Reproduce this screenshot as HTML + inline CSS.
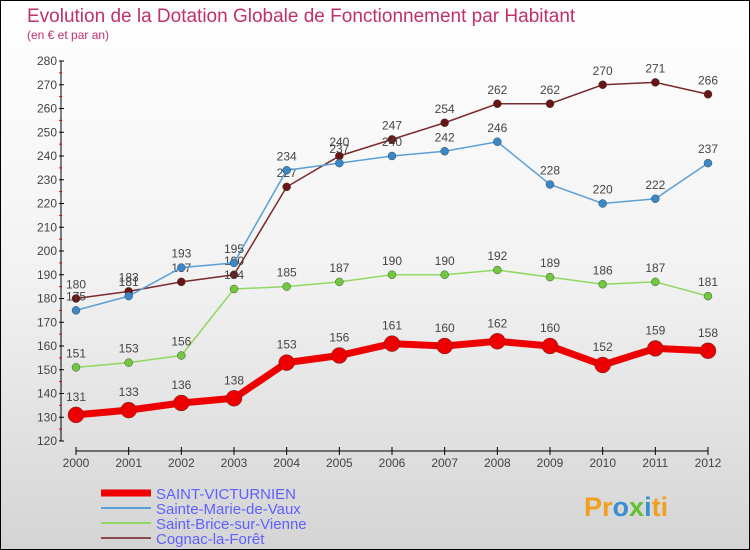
<!DOCTYPE html>
<html><head><meta charset="utf-8"><style>
body{margin:0}
#c{width:748px;height:548px;border:1px solid #000;background:linear-gradient(#fff,#f2f2f2 50%,#d4d4d4);position:relative;font-family:"Liberation Sans",sans-serif;overflow:hidden}
</style></head><body>
<div id="c">
<svg id="s" width="748" height="548" style="position:absolute;left:0;top:0">
<text x="26" y="21" font-size="19" fill="#c0306a">Evolution de la Dotation Globale de Fonctionnement par Habitant</text>
<text x="26" y="38" font-size="12" fill="#c0306a">(en € et par an)</text>
<text x="583" y="515" font-size="27" font-weight="bold" fill="#f0a020">Pr<tspan fill="#3a8fd0">o</tspan><tspan fill="#60c030">x</tspan><tspan fill="#3a8fd0">i</tspan>ti</text>
</svg>
</div>
<script>
const years=[2000,2001,2002,2003,2004,2005,2006,2007,2008,2009,2010,2011,2012];
const saintVicturnien=[131,133,136,138,153,156,161,160,162,160,152,159,158];
const sainteMarie=[175,181,193,195,234,237,240,242,246,228,220,222,237];
const saintBrice=[151,153,156,184,185,187,190,190,192,189,186,187,181];
const cognac=[180,183,187,190,227,240,247,254,262,262,270,271,266];
const yTicks=[120,130,140,150,160,170,180,190,200,210,220,230,240,250,260,270,280];
const names=["SAINT-VICTURNIEN","Sainte-Marie-de-Vaux","Saint-Brice-sur-Vienne","Cognac-la-Forêt"];
const NS="http://www.w3.org/2000/svg",s=document.getElementById('s');
const X=i=>75+i*(632/12), Y=v=>440-(v-120)*2.375;
function el(t,a,txt){const e=document.createElementNS(NS,t);for(const k in a)e.setAttribute(k,a[k]);if(txt!=null)e.textContent=txt;s.appendChild(e);return e;}
let e=el('line',{x1:60,y1:60,x2:60,y2:440,stroke:'#000'});

e=el('line',{x1:75,y1:450,x2:707,y2:450,stroke:'#000'});

yTicks.forEach((v,i)=>{
 el('line',{x1:58,y1:Y(v),x2:63,y2:Y(v),stroke:'#000'});
 if(i<yTicks.length-1) el('line',{x1:58,y1:Y(v+5),x2:61,y2:Y(v+5),stroke:'#e00'});
 const t=el('text',{x:56,y:Y(v)+4,'font-size':12,'text-anchor':'end',fill:'#444'},v);
 
});
years.forEach((y,i)=>{
 el('line',{x1:X(i),y1:446,x2:X(i),y2:454,stroke:'#000'});
 const t=el('text',{x:X(i),y:466,'font-size':12,'text-anchor':'middle',fill:'#444'},y);
 
});
const series=[[cognac,'#7a2a2a','#6a1515',1.5,4,'cognac'],[saintBrice,'#90d860','#70c840',1.5,4,'saint-brice'],[sainteMarie,'#5aa0d8','#3a88c8',1.5,4,'sainte-marie'],[saintVicturnien,'#ee0000','#ee0000',7,8,'saint-victurnien']];
series.forEach(([d,c,f,w,r,n])=>{
 const p=el('polyline',{points:d.map((v,i)=>X(i)+','+Y(v)).join(' '),fill:'none',stroke:c,'stroke-width':w});
 
 d.forEach((v,i)=>{
  const q=el('circle',{cx:X(i),cy:Y(v),r:r,fill:f,stroke:'#333','stroke-width':0.4});
  
  const t=el('text',{x:X(i),y:Y(v)-(r+6),'font-size':12,'text-anchor':'middle',fill:'#444'},v);
  
 });
});
const lg=[['#ee0000',7],['#5aa0d8',2],['#90d860',2],['#8a4a4a',2]];
lg.forEach(([c,w],i)=>{
 const yy=492+i*15;
 const l=el('line',{x1:100,y1:yy,x2:150,y2:yy,stroke:c,'stroke-width':w});
 
 const t=el('text',{x:155,y:yy+6,'font-size':15,fill:'#6060ff'},names[i]);
 
});
</script>
</body></html>
